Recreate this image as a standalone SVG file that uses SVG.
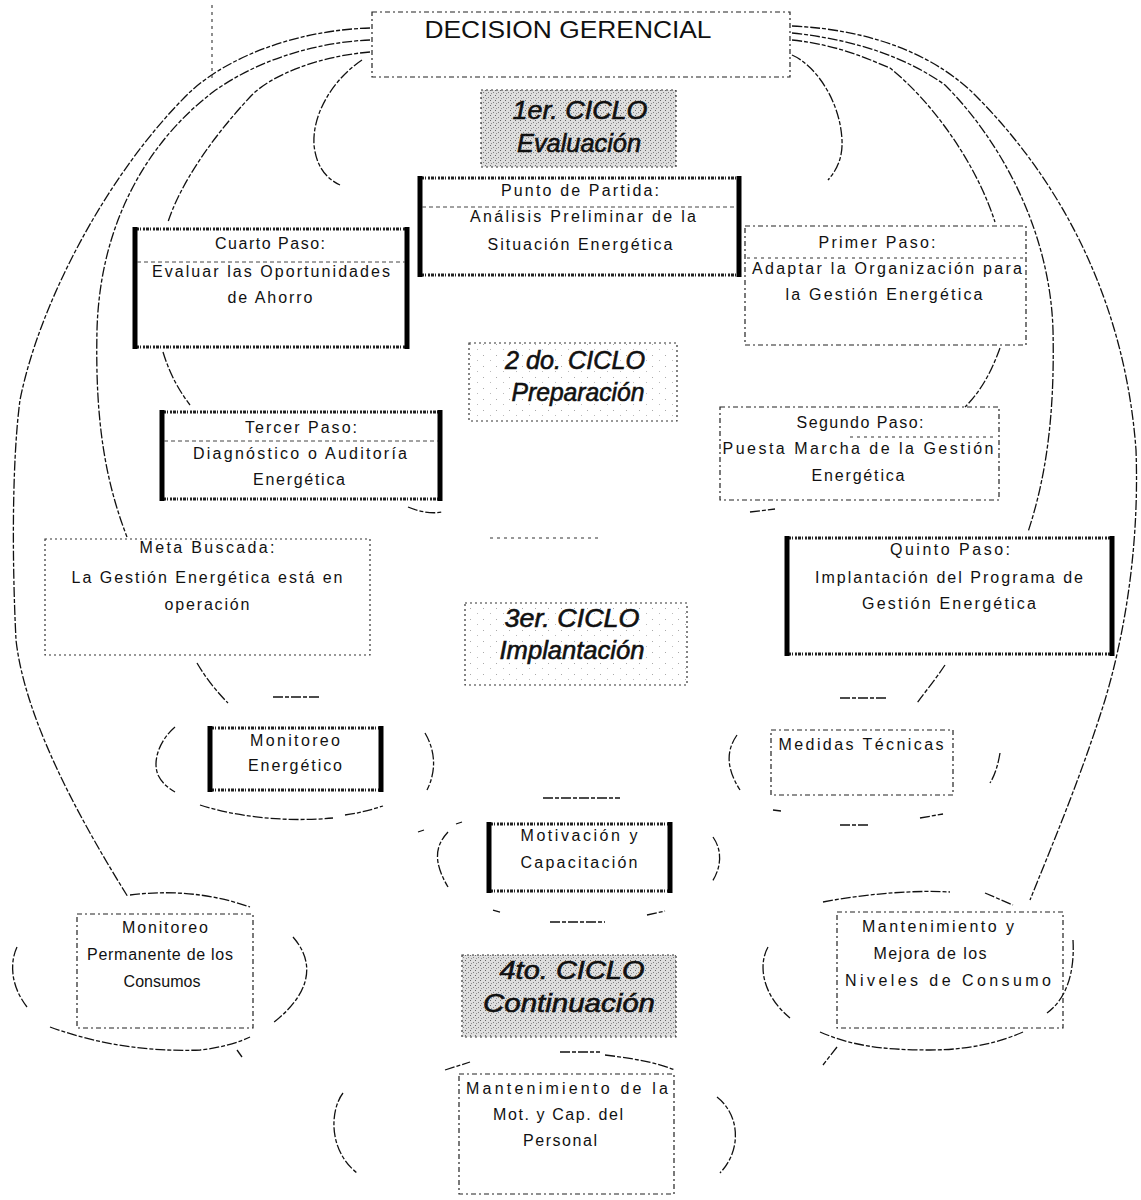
<svg xmlns="http://www.w3.org/2000/svg" width="1141" height="1200" viewBox="0 0 1141 1200">
<defs>
  <pattern id="stip" width="5" height="5" patternUnits="userSpaceOnUse">
    <rect width="5" height="5" fill="#dedede"/>
    <rect x="0" y="0" width="1" height="1" fill="#666"/>
    <rect x="3" y="2" width="1" height="1" fill="#808080"/>
    <rect x="1" y="3" width="1" height="1" fill="#909090"/>
  </pattern>
  <pattern id="speck" width="13" height="11" patternUnits="userSpaceOnUse">
    <rect width="13" height="11" fill="#fff"/>
    <rect x="2" y="3" width="1" height="1" fill="#aaa"/>
    <rect x="9" y="8" width="1" height="1" fill="#bbb"/>
  </pattern>
  <style>
    .thin { fill:none; stroke:#222; stroke-width:1.2; stroke-dasharray:5 3 2 3; }
    .dotb { fill:none; stroke:#333; stroke-width:1.2; stroke-dasharray:2 3; }
    .grey { fill:url(#stip); stroke:#333; stroke-width:1.2; stroke-dasharray:2 3; }
    .light { fill:url(#speck); stroke:#333; stroke-width:1.2; stroke-dasharray:2 3; }
    .side { stroke:#000; stroke-width:5; }
    .band { stroke:#222; stroke-width:3; stroke-dasharray:2 1 3 1 1 2; }
    .sep { stroke:#444; stroke-width:1; stroke-dasharray:4 3; }
    .lbl { font-family:"Liberation Sans", Arial, sans-serif; font-size:16px; fill:#111; text-anchor:middle; }
    .cyc { font-family:"Liberation Sans", Arial, sans-serif; font-size:25px; font-style:italic; fill:#111; stroke:#111; stroke-width:0.6; text-anchor:middle; }
    .head { font-family:"Liberation Sans", Arial, sans-serif; font-size:23px; fill:#111; text-anchor:middle; }
    .conn { fill:none; stroke:#111; stroke-width:1.3; stroke-dasharray:10 2 4 2; }
    .faint { fill:none; stroke:#333; stroke-width:1.1; stroke-dasharray:3 4; }
  </style>
</defs>
<rect width="1141" height="1200" fill="#fff"/>

<!-- connectors and surrounding arcs -->
<g id="connectors">
  <!-- left fan from the decision box -->
  <path class="conn" d="M370,28 C300,30 230,55 190,92 C110,170 40,300 20,400 C12,460 12,560 16,640 C25,720 80,820 128,897"/>
  <path class="conn" d="M370,40 C320,42 260,58 213,92 C150,140 100,220 97,330 C95,420 105,480 127,537"/>
  <path class="conn" d="M370,52 C320,56 270,75 250,97 C210,140 180,185 168,222"/>
  <path class="conn" d="M362,60 C332,80 312,115 314,145 C316,165 325,178 340,185"/>
  <path class="faint" d="M212,5 L212,80"/>
  <!-- right fan from the decision box -->
  <path class="conn" d="M792,55 C815,65 840,100 842,140 C843,160 835,172 828,180"/>
  <path class="conn" d="M792,40 C840,45 870,60 890,68 C930,100 975,160 995,222"/>
  <path class="conn" d="M792,33 C860,40 910,60 945,85 C1000,140 1050,230 1053,330 C1055,420 1045,480 1028,532"/>
  <path class="conn" d="M792,26 C880,30 940,60 975,95 C1060,180 1125,300 1136,450 C1140,560 1120,650 1105,700 C1080,780 1050,850 1030,900"/>
  <!-- step links -->
  <path class="conn" d="M163,352 C170,375 180,392 190,405"/>
  <path class="conn" d="M1000,348 C992,370 982,390 965,407"/>
  <path class="conn" d="M408,507 C420,512 432,514 442,512"/>
  <path class="conn" d="M750,512 L775,509"/>
  <path class="faint" d="M490,538 L600,538"/>
  <path class="conn" d="M197,663 C207,680 218,693 228,703"/>
  <path class="conn" d="M945,665 C935,680 925,692 917,703"/>
  <!-- ring round Monitoreo Energetico -->
  <path class="conn" d="M273,697 L320,697"/>
  <path class="conn" d="M175,727 C160,740 152,760 158,775 C162,783 168,788 175,792"/>
  <path class="conn" d="M425,733 C435,750 437,770 427,790"/>
  <path class="conn" d="M200,805 C240,818 290,822 333,818 M345,815 C360,813 370,810 383,806"/>
  <!-- ring round Medidas Tecnicas -->
  <path class="conn" d="M840,698 L887,698"/>
  <path class="conn" d="M737,735 C728,748 724,765 740,790"/>
  <path class="conn" d="M1000,753 C998,765 995,775 990,783"/>
  <path class="conn" d="M773,810 L781,811 M840,825 L870,825 M920,818 L943,814"/>
  <!-- ring round Motivacion y Capacitacion -->
  <path class="conn" d="M543,798 L620,798"/>
  <path class="conn" d="M418,832 L424,830 M456,824 L462,822"/>
  <path class="conn" d="M448,832 C436,845 432,860 448,887"/>
  <path class="conn" d="M713,837 C722,850 722,866 712,882"/>
  <path class="conn" d="M493,910 L500,912 M550,922 L605,922 M647,915 L665,911"/>
  <!-- ring round Monitoreo Permanente -->
  <path class="conn" d="M130,895 C170,890 210,893 250,907"/>
  <path class="conn" d="M17,947 C10,962 10,985 27,1007"/>
  <path class="conn" d="M293,937 C313,960 315,990 273,1023"/>
  <path class="conn" d="M50,1027 C100,1045 150,1052 200,1050 C220,1048 240,1042 250,1037"/>
  <path class="conn" d="M237,1050 L242,1057"/>
  <!-- ring round Mantenimiento y Mejora -->
  <path class="conn" d="M823,902 C870,893 920,890 950,892 M985,893 L1013,905"/>
  <path class="conn" d="M768,947 C758,965 762,995 790,1018"/>
  <path class="conn" d="M1073,940 C1075,975 1065,1000 1047,1013"/>
  <path class="conn" d="M820,1032 C850,1045 880,1050 930,1050 C970,1050 1000,1042 1023,1032"/>
  <path class="conn" d="M837,1047 L823,1065"/>
  <!-- ring round Mantenimiento de la Mot. y Cap. -->
  <path class="conn" d="M560,1052 L600,1052 M605,1055 C630,1058 655,1062 675,1070"/>
  <path class="conn" d="M445,1070 L470,1062"/>
  <path class="conn" d="M343,1093 C330,1110 328,1150 357,1173"/>
  <path class="conn" d="M717,1097 C740,1115 742,1150 720,1173"/>
</g>

<!-- top decision -->
<g id="decision-gerencial">
  <rect class="thin" x="372" y="12" width="418" height="65"/>
  <text class="head" x="568" y="38" textLength="287" lengthAdjust="spacingAndGlyphs">DECISION GERENCIAL</text>
</g>

<!-- cycle 1 -->
<g id="ciclo-1">
  <rect class="grey" x="481" y="90" width="195" height="77"/>
  <text class="cyc" x="580" y="119" textLength="135" lengthAdjust="spacingAndGlyphs">1er. CICLO</text>
  <text class="cyc" x="579" y="152" textLength="124" lengthAdjust="spacingAndGlyphs">Evaluación</text>
</g>

<g id="punto-de-partida">
  <line class="band" x1="418" y1="178" x2="741" y2="178"/>
  <line class="band" x1="418" y1="275" x2="741" y2="275"/>
  <line class="side" x1="420" y1="176" x2="420" y2="277"/>
  <line class="side" x1="739" y1="176" x2="739" y2="277"/>
  <line class="sep" x1="422" y1="207" x2="737" y2="207"/>
  <text class="lbl" x="580" y="196" textLength="158" lengthAdjust="spacing">Punto de Partida:</text>
  <text class="lbl" x="583" y="222" textLength="226" lengthAdjust="spacing">Análisis Preliminar de la</text>
  <text class="lbl" x="580" y="250" textLength="185" lengthAdjust="spacing">Situación Energética</text>
</g>

<g id="cuarto-paso">
  <line class="band" x1="133" y1="229" x2="409" y2="229"/>
  <line class="band" x1="133" y1="347" x2="409" y2="347"/>
  <line class="side" x1="135" y1="227" x2="135" y2="349"/>
  <line class="side" x1="407" y1="227" x2="407" y2="349"/>
  <line class="sep" x1="137" y1="262" x2="405" y2="262"/>
  <text class="lbl" x="270" y="249" textLength="110" lengthAdjust="spacing">Cuarto Paso:</text>
  <text class="lbl" x="271" y="277" textLength="238" lengthAdjust="spacing">Evaluar las Oportunidades</text>
  <text class="lbl" x="270" y="303" textLength="85" lengthAdjust="spacing">de Ahorro</text>
</g>

<g id="primer-paso">
  <rect class="thin" x="745" y="226" width="281" height="119"/>
  <line class="faint" x1="747" y1="258" x2="1024" y2="258"/>
  <text class="lbl" x="877" y="248" textLength="117" lengthAdjust="spacing">Primer Paso:</text>
  <text class="lbl" x="887" y="274" textLength="270" lengthAdjust="spacing">Adaptar la Organización para</text>
  <text class="lbl" x="884" y="300" textLength="197" lengthAdjust="spacing">la Gestión Energética</text>
</g>

<!-- cycle 2 -->
<g id="ciclo-2">
  <rect class="light" x="469" y="343" width="208" height="78"/>
  <text class="cyc" x="575" y="369" textLength="140" lengthAdjust="spacingAndGlyphs">2 do. CICLO</text>
  <text class="cyc" x="578" y="401" textLength="133" lengthAdjust="spacingAndGlyphs">Preparación</text>
</g>

<g id="tercer-paso">
  <line class="band" x1="160" y1="412" x2="442" y2="412"/>
  <line class="band" x1="160" y1="499" x2="442" y2="499"/>
  <line class="side" x1="162" y1="410" x2="162" y2="501"/>
  <line class="side" x1="440" y1="410" x2="440" y2="501"/>
  <line class="sep" x1="164" y1="441" x2="438" y2="441"/>
  <text class="lbl" x="301" y="433" textLength="112" lengthAdjust="spacing">Tercer Paso:</text>
  <text class="lbl" x="300" y="459" textLength="214" lengthAdjust="spacing">Diagnóstico o Auditoría</text>
  <text class="lbl" x="299" y="485" textLength="92" lengthAdjust="spacing">Energética</text>
</g>

<g id="segundo-paso">
  <rect class="thin" x="720" y="407" width="279" height="93"/>
  <line class="faint" x1="850" y1="437" x2="997" y2="437"/>
  <text class="lbl" x="860" y="428" textLength="127" lengthAdjust="spacing">Segundo Paso:</text>
  <text class="lbl" x="858" y="454" textLength="271" lengthAdjust="spacing">Puesta Marcha de la Gestión</text>
  <text class="lbl" x="858" y="481" textLength="93" lengthAdjust="spacing">Energética</text>
</g>

<g id="meta-buscada">
  <rect class="dotb" x="45" y="539" width="325" height="116"/>
  <text class="lbl" x="207" y="553" textLength="135" lengthAdjust="spacing">Meta Buscada:</text>
  <text class="lbl" x="207" y="583" textLength="271" lengthAdjust="spacing">La Gestión Energética está en</text>
  <text class="lbl" x="207" y="610" textLength="85" lengthAdjust="spacing">operación</text>
</g>

<!-- cycle 3 -->
<g id="ciclo-3">
  <rect class="light" x="465" y="603" width="222" height="82"/>
  <text class="cyc" x="572" y="627" textLength="135" lengthAdjust="spacingAndGlyphs">3er. CICLO</text>
  <text class="cyc" x="572" y="659" textLength="145" lengthAdjust="spacingAndGlyphs">Implantación</text>
</g>

<g id="quinto-paso">
  <line class="band" x1="785" y1="538" x2="1114" y2="538"/>
  <line class="band" x1="785" y1="654" x2="1114" y2="654"/>
  <line class="side" x1="787" y1="536" x2="787" y2="656"/>
  <line class="side" x1="1112" y1="536" x2="1112" y2="656"/>
  <text class="lbl" x="950" y="555" textLength="120" lengthAdjust="spacing">Quinto Paso:</text>
  <text class="lbl" x="949" y="583" textLength="268" lengthAdjust="spacing">Implantación del Programa de</text>
  <text class="lbl" x="949" y="609" textLength="174" lengthAdjust="spacing">Gestión Energética</text>
</g>

<g id="monitoreo-energetico">
  <line class="band" x1="208" y1="728" x2="383" y2="728"/>
  <line class="band" x1="208" y1="790" x2="383" y2="790"/>
  <line class="side" x1="210" y1="726" x2="210" y2="792"/>
  <line class="side" x1="381" y1="726" x2="381" y2="792"/>
  <text class="lbl" x="295" y="746" textLength="90" lengthAdjust="spacing">Monitoreo</text>
  <text class="lbl" x="295" y="771" textLength="94" lengthAdjust="spacing">Energético</text>
</g>

<g id="medidas-tecnicas">
  <rect class="thin" x="771" y="730" width="182" height="65"/>
  <text class="lbl" x="861" y="750" textLength="165" lengthAdjust="spacing">Medidas Técnicas</text>
</g>

<g id="motivacion-capacitacion">
  <line class="band" x1="487" y1="824" x2="672" y2="824"/>
  <line class="band" x1="487" y1="891" x2="672" y2="891"/>
  <line class="side" x1="489" y1="822" x2="489" y2="893"/>
  <line class="side" x1="670" y1="822" x2="670" y2="893"/>
  <text class="lbl" x="579" y="841" textLength="117" lengthAdjust="spacing">Motivación y</text>
  <text class="lbl" x="579" y="868" textLength="117" lengthAdjust="spacing">Capacitación</text>
</g>

<g id="monitoreo-permanente">
  <rect class="thin" x="77" y="914" width="176" height="114"/>
  <text class="lbl" x="165" y="933" textLength="86" lengthAdjust="spacing">Monitoreo</text>
  <text class="lbl" x="160" y="960" textLength="146" lengthAdjust="spacing">Permanente de los</text>
  <text class="lbl" x="162" y="987" textLength="77" lengthAdjust="spacing">Consumos</text>
</g>

<!-- cycle 4 -->
<g id="ciclo-4">
  <rect class="grey" x="462" y="955" width="214" height="82"/>
  <text class="cyc" x="572" y="979" textLength="145" lengthAdjust="spacingAndGlyphs">4to. CICLO</text>
  <text class="cyc" x="569" y="1012" textLength="172" lengthAdjust="spacingAndGlyphs">Continuación</text>
</g>

<g id="mantenimiento-mejora">
  <rect class="thin" x="837" y="912" width="226" height="116"/>
  <text class="lbl" x="938" y="932" textLength="152" lengthAdjust="spacing">Mantenimiento y</text>
  <text class="lbl" x="930" y="959" textLength="113" lengthAdjust="spacing">Mejora de los</text>
  <text class="lbl" x="948" y="986" textLength="206" lengthAdjust="spacing">Niveles de Consumo</text>
</g>

<g id="mantenimiento-mot-cap">
  <rect class="thin" x="459" y="1074" width="215" height="120"/>
  <text class="lbl" x="567" y="1094" textLength="202" lengthAdjust="spacing">Mantenimiento de la</text>
  <text class="lbl" x="558" y="1120" textLength="130" lengthAdjust="spacing">Mot. y Cap.  del</text>
  <text class="lbl" x="560" y="1146" textLength="74" lengthAdjust="spacing">Personal</text>
</g>
</svg>
